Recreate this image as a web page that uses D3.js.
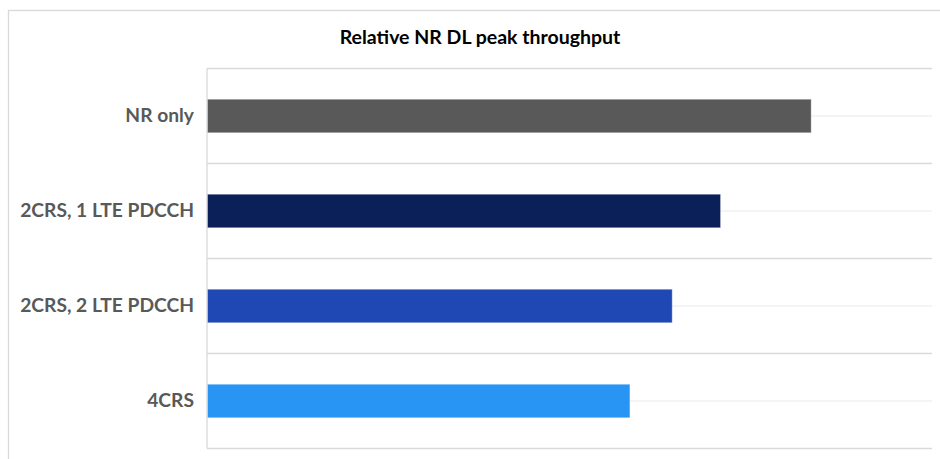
<!DOCTYPE html>
<html>
<head>
<meta charset="utf-8">
<script src="https://cdn.jsdelivr.net/npm/d3@7"></script>
<style>
  html, body { margin: 0; padding: 0; background: #fff; }
  svg { display: block; }
</style>
</head>
<body>
<svg id="chart" width="940" height="459"></svg>
<script>
const categories = ["NR only", "2CRS, 1 LTE PDCCH", "2CRS, 2 LTE PDCCH", "4CRS"];
const values = [1.0, 0.85, 0.77, 0.70];
const colors = ["#595959", "#0b1f59", "#1f48b5", "#2894f4"];
const title = "Relative NR DL peak throughput";
const xDomain = [0, 1.2];

(function () {
const svg = d3.select("#chart");
const W = 940, H = 459;
const pLeft = 207, pRight = 932, pTop = 68.5, pBottom = 448.5;
const font = "Lato, 'Open Sans', sans-serif";

// outer frame
svg.append("rect")
  .attr("x", 8.5).attr("y", 10.5)
  .attr("width", W + 20).attr("height", H + 20)
  .attr("fill", "none").attr("stroke", "#d9d9d9").attr("stroke-width", 1.3);

const x = d3.scaleLinear().domain(xDomain).range([pLeft, pRight]);
const y = d3.scaleBand().domain(categories).range([pTop, pBottom])
  .paddingInner(0.647).paddingOuter(0.3235);
const step = y.step();

// faint centre lines
svg.append("g").selectAll("line").data(categories).join("line")
  .attr("x1", pLeft).attr("x2", pRight)
  .attr("y1", d => y(d) + y.bandwidth() / 2)
  .attr("y2", d => y(d) + y.bandwidth() / 2)
  .attr("stroke", "#f0f0f0").attr("stroke-width", 1.3);

// category boundary lines
const bounds = d3.range(categories.length + 1).map(i => pTop + i * step);
svg.append("g").selectAll("line").data(bounds).join("line")
  .attr("x1", pLeft).attr("x2", pRight)
  .attr("y1", d => d).attr("y2", d => d)
  .attr("stroke", "#d9d9d9").attr("stroke-width", 1.3);

// left axis line
svg.append("line")
  .attr("x1", pLeft).attr("x2", pLeft)
  .attr("y1", pTop).attr("y2", pBottom)
  .attr("stroke", "#d9d9d9").attr("stroke-width", 1.3);

// bars
svg.append("g").selectAll("rect").data(categories).join("rect")
  .attr("x", x(0) + 0.5)
  .attr("y", d => y(d))
  .attr("width", (d, i) => x(values[i]) - x(0) - 0.5)
  .attr("height", y.bandwidth())
  .attr("fill", (d, i) => colors[i])
  .attr("stroke", "rgba(255,255,255,0.35)")
  .attr("stroke-width", 1);

// y axis labels
const yAxis = d3.axisLeft(y).tickSize(0).tickPadding(13);
const ga = svg.append("g").attr("transform", `translate(${pLeft},0)`).call(yAxis);
ga.select(".domain").remove();
const labels = ga.selectAll("text")
  .attr("fill", "#595959")
  .style("font-family", font)
  .style("font-weight", "bold")
  .style("font-size", "18px");
// fit longest label to the reference width (~174px)
let maxW = 0;
labels.each(function () { maxW = Math.max(maxW, this.getComputedTextLength()); });
if (maxW > 0) {
  const fs = Math.min(21, 18 * 174 / maxW);
  labels.style("font-size", fs + "px");
}

// title
svg.append("text")
  .attr("x", 480).attr("y", 43.5)
  .attr("text-anchor", "middle")
  .attr("fill", "#000")
  .style("font-family", font)
  .style("font-weight", "bold")
  .style("font-size", "19.5px")
  .text(title);
})();
</script>
</body>
</html>
